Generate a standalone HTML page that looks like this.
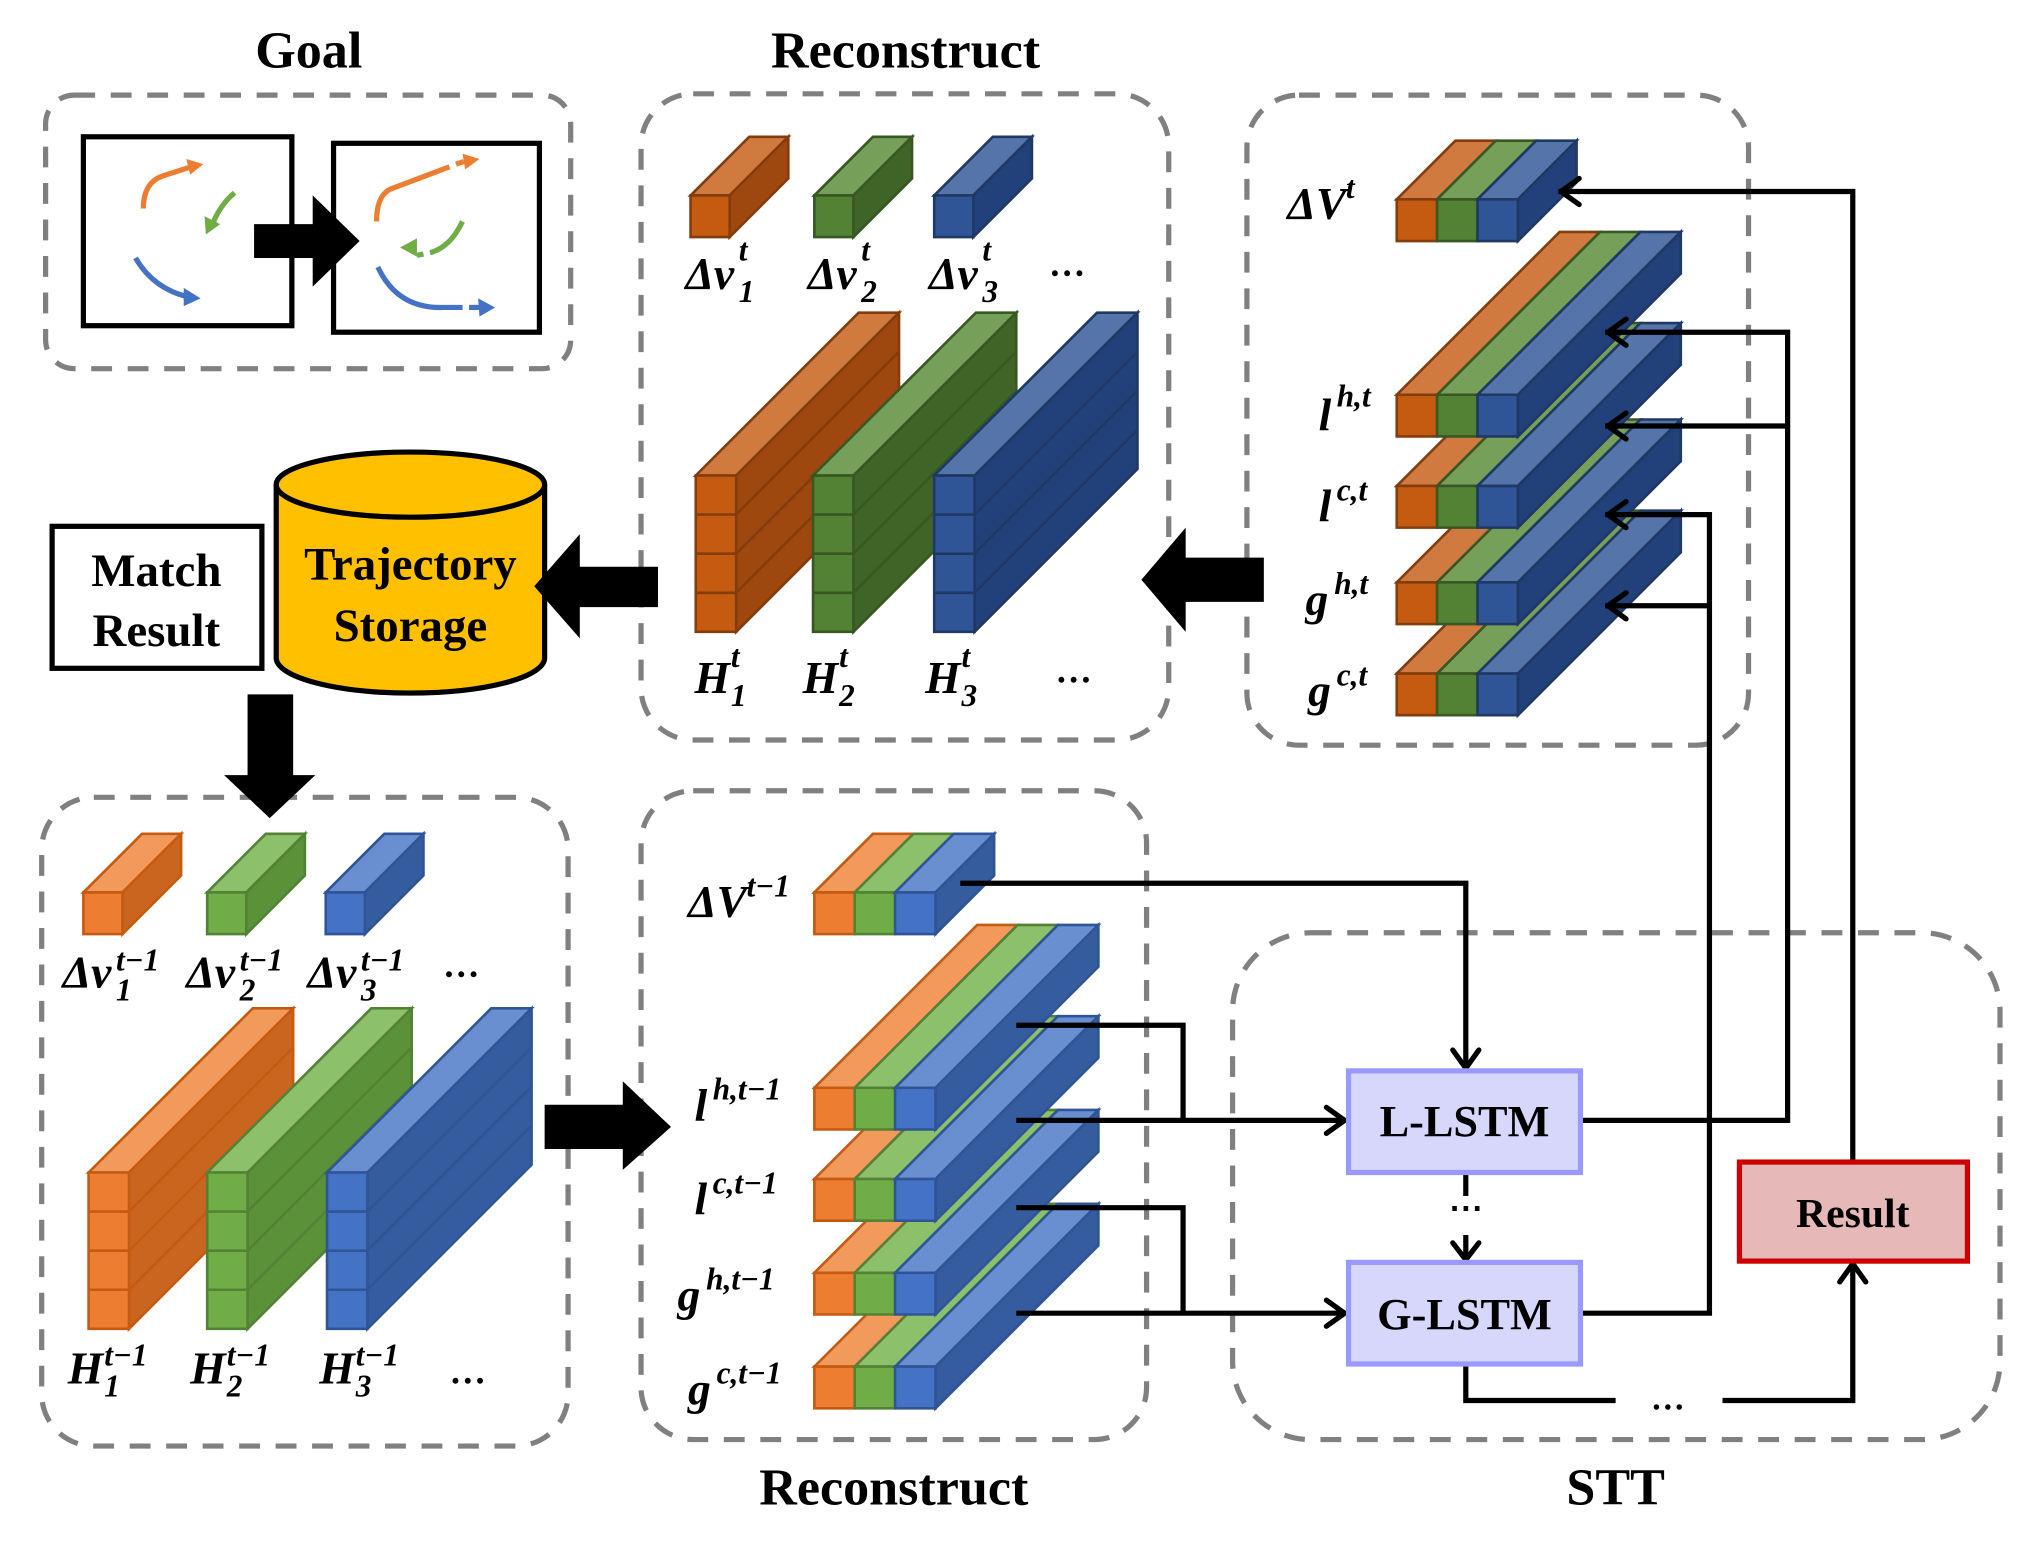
<!DOCTYPE html>
<html><head><meta charset="utf-8"><style>
html,body{margin:0;padding:0;background:#fff;width:2043px;height:1549px;overflow:hidden}
svg{display:block}
.t{font-family:"Liberation Serif",serif;font-weight:bold;fill:#000}
.m{font-family:"Liberation Serif",serif;font-weight:bold;font-style:italic;fill:#000;font-size:35px}
.s{font-family:"Liberation Serif",serif;font-weight:bold;font-style:italic;fill:#000;font-size:24px}
.db{fill:none;stroke:#808080;stroke-width:4;stroke-dasharray:16,12}
.ln{fill:none;stroke:#000;stroke-width:4}
.ah{fill:none;stroke:#000;stroke-width:4;stroke-linecap:round;stroke-linejoin:round}
</style></head><body>
<svg id="s" width="2043" height="1549" viewBox="0 0 1568 1189" preserveAspectRatio="none" xmlns="http://www.w3.org/2000/svg">
<text class="t" x="237" y="52" font-size="40" text-anchor="middle">Goal</text>
<text class="t" x="695" y="52" font-size="40" text-anchor="middle">Reconstruct</text>
<text class="t" x="686" y="1155" font-size="40" text-anchor="middle">Reconstruct</text>
<text class="t" x="1240" y="1155" font-size="40" text-anchor="middle">STT</text>
<rect class="db" x="35" y="73" width="403" height="210" rx="22"/>
<rect class="db" x="492" y="72" width="405" height="496" rx="40"/>
<rect class="db" x="957" y="73" width="385" height="499" rx="40"/>
<rect class="db" x="32" y="612" width="404" height="498" rx="40"/>
<rect class="db" x="492" y="607" width="388" height="498" rx="40"/>
<rect class="db" x="946" y="716" width="589" height="389" rx="60"/>
<rect x="64" y="105" width="160" height="145" fill="#fff" stroke="#000" stroke-width="4"/>
<rect x="256" y="110" width="158" height="145" fill="#fff" stroke="#000" stroke-width="4"/>
<polygon points="195,172 240,172 240,150 276,185 240,220 240,198 195,198" fill="#000"/>
<path d="M110 160 Q110 140 125 135 L150 127" stroke="#ED7D31" stroke-width="4" fill="none"/><polygon points="156,126 143,122 146,134" fill="#ED7D31"/>
<path d="M180 148 Q168 158 162 175" stroke="#70AD47" stroke-width="4" fill="none"/><polygon points="158,180 157,166 169,172" fill="#70AD47"/>
<path d="M104 198 Q118 222 145 228" stroke="#4472C4" stroke-width="4" fill="none"/><polygon points="154,229 141,221 141,235" fill="#4472C4"/>
<path d="M289 170 Q289 150 300 145 L345 128" stroke="#ED7D31" stroke-width="4" fill="none"/><path d="M350 126 L356 124" stroke="#ED7D31" stroke-width="4"/><polygon points="368,122 355,118 357,130" fill="#ED7D31"/>
<path d="M355 170 Q350 180 345 185 Q338 192 330 194 M325 195 L320 196" stroke="#70AD47" stroke-width="4" fill="none"/><polygon points="307,190 320,183 320,197" fill="#70AD47"/>
<path d="M290 205 Q305 237 340 236 L355 236 M360 236 L368 236" stroke="#4472C4" stroke-width="4" fill="none"/><polygon points="380,236 367,229 368,243" fill="#4472C4"/>
<path d="M212 372 L212 505 A103 27 0 0 0 418 505 L418 372" fill="#FFC000" stroke="#000" stroke-width="4"/>
<ellipse cx="315" cy="372" rx="103" ry="25" fill="#FFC000" stroke="#000" stroke-width="4"/>
<text class="t" x="315" y="445" font-size="36" text-anchor="middle">Trajectory</text>
<text class="t" x="315" y="492" font-size="36" text-anchor="middle">Storage</text>
<rect x="40" y="404" width="161" height="109" fill="#fff" stroke="#000" stroke-width="4"/>
<text class="t" x="120" y="450" font-size="36" text-anchor="middle">Match</text>
<text class="t" x="120" y="496" font-size="36" text-anchor="middle">Result</text>
<polygon points="505,435 445,435 445,410 410,450 445,490 445,466 505,466" fill="#000"/>
<polygon points="970,428 910,428 910,405 876,445 910,485 910,462 970,462" fill="#000"/>
<polygon points="190,533 225,533 225,595 242,595 207,628 172,595 190,595" fill="#000"/>
<polygon points="418,848 478,848 478,830 515,865 478,898 478,882 418,882" fill="#000"/>
<g id="cubes"></g>
<text class="m" x="526" y="222">Δv</text><text class="s" x="567" y="200">t</text><text class="s" x="567" y="232">1</text>
<text class="m" x="620" y="222">Δv</text><text class="s" x="661" y="200">t</text><text class="s" x="661" y="232">2</text>
<text class="m" x="713" y="222">Δv</text><text class="s" x="754" y="200">t</text><text class="s" x="754" y="232">3</text>
<text class="t" x="805" y="212" font-size="28">…</text>
<text class="m" x="533" y="532">H</text><text class="s" x="561" y="512">t</text><text class="s" x="561" y="542">1</text>
<text class="m" x="616" y="532">H</text><text class="s" x="644" y="512">t</text><text class="s" x="644" y="542">2</text>
<text class="m" x="710" y="532">H</text><text class="s" x="738" y="512">t</text><text class="s" x="738" y="542">3</text>
<text class="t" x="810" y="524" font-size="28">…</text>
<text class="m" x="988" y="168">ΔV</text><text class="s" x="1033" y="152">t</text>
<text class="m" x="1012" y="330">l</text><text class="s" x="1026" y="312">h,t</text>
<text class="m" x="1012" y="400">l</text><text class="s" x="1026" y="384">c,t</text>
<text class="m" x="1002" y="472">g</text><text class="s" x="1024" y="456">h,t</text>
<text class="m" x="1004" y="542">g</text><text class="s" x="1026" y="526">c,t</text>
<text class="m" x="48" y="758">Δv</text><text class="s" x="89" y="745">t−1</text><text class="s" x="89" y="768">1</text>
<text class="m" x="143" y="758">Δv</text><text class="s" x="184" y="745">t−1</text><text class="s" x="184" y="768">2</text>
<text class="m" x="236" y="758">Δv</text><text class="s" x="277" y="745">t−1</text><text class="s" x="277" y="768">3</text>
<text class="t" x="340" y="750" font-size="28">…</text>
<text class="m" x="52" y="1062">H</text><text class="s" x="80" y="1048">t−1</text><text class="s" x="80" y="1072">1</text>
<text class="m" x="146" y="1062">H</text><text class="s" x="174" y="1048">t−1</text><text class="s" x="174" y="1072">2</text>
<text class="m" x="245" y="1062">H</text><text class="s" x="273" y="1048">t−1</text><text class="s" x="273" y="1072">3</text>
<text class="t" x="345" y="1062" font-size="28">…</text>
<text class="m" x="528" y="704">ΔV</text><text class="s" x="573" y="688">t−1</text>
<text class="m" x="533" y="860">l</text><text class="s" x="547" y="844">h,t−1</text>
<text class="m" x="533" y="932">l</text><text class="s" x="547" y="916">c,t−1</text>
<text class="m" x="520" y="1006">g</text><text class="s" x="542" y="990">h,t−1</text>
<text class="m" x="528" y="1078">g</text><text class="s" x="550" y="1062">c,t−1</text>
<polyline class="ln" points="737,678 1125,678 1125,818"/>
<polyline class="ah" points="1115,806 1125,820 1135,806"/>
<polyline class="ln" points="780,787 908,787 908,860"/>
<polyline class="ln" points="780,860 1031,860"/>
<polyline class="ah" points="1018,850 1032,860 1018,870"/>
<polyline class="ln" points="780,927 908,927 908,1008"/>
<polyline class="ln" points="780,1008 1031,1008"/>
<polyline class="ah" points="1018,998 1032,1008 1018,1018"/>
<polyline class="ln" points="1213,860 1372,860 1372,255 1232,255"/>
<line class="ln" x1="1372" y1="327" x2="1232" y2="327"/>
<polyline class="ah" points="1248,245 1234,255 1248,265"/>
<polyline class="ah" points="1248,317 1234,327 1248,337"/>
<polyline class="ln" points="1213,1008 1312,1008 1312,395 1232,395"/>
<line class="ln" x1="1312" y1="465" x2="1232" y2="465"/>
<polyline class="ah" points="1248,385 1234,395 1248,405"/>
<polyline class="ah" points="1248,455 1234,465 1248,475"/>
<polyline class="ln" points="1422,892 1422,147 1196,147"/>
<polyline class="ah" points="1212,137 1198,147 1212,157"/>
<line x1="1125" y1="900" x2="1125" y2="918" stroke="#000" stroke-width="4"/>
<text class="t" x="1125" y="936" font-size="26" text-anchor="middle">⋯</text>
<line x1="1125" y1="948" x2="1125" y2="966" stroke="#000" stroke-width="4"/>
<polyline class="ah" points="1115,954 1125,967 1135,954"/>
<polyline class="ln" points="1125,1047 1125,1075 1240,1075"/>
<text class="t" x="1280" y="1082" font-size="26" text-anchor="middle">…</text>
<polyline class="ln" points="1322,1075 1422,1075 1422,972"/>
<polyline class="ah" points="1412,984 1422,970 1432,984"/>
<rect x="1035" y="822" width="178" height="78" fill="#D7D7FB" stroke="#9999FF" stroke-width="4"/>
<text class="t" x="1124" y="872" font-size="34" text-anchor="middle">L-LSTM</text>
<rect x="1035" y="969" width="178" height="78" fill="#D7D7FB" stroke="#9999FF" stroke-width="4"/>
<text class="t" x="1124" y="1020" font-size="34" text-anchor="middle">G-LSTM</text>
<rect x="1335" y="892" width="175" height="76" fill="#E6B9B8" stroke="#CC0000" stroke-width="4"/>
<text class="t" x="1422" y="942" font-size="32" text-anchor="middle">Result</text>
</svg>
<script>
var g=document.getElementById('cubes'),NS='http://www.w3.org/2000/svg';
var D={o:['#C55A11','#D07A40','#9E4810','#843C0C'],g:['#548235','#76A05A','#3F6427','#385723'],b:['#2F5597','#5575AA','#22407A','#203864']};
var L={o:['#ED7D31','#F19A5C','#C9651F','#C55A11'],g:['#70AD47','#8DC06A','#5A9139','#548235'],b:['#4472C4','#6A8FD0','#345C9F','#2F5597']};
function p(pts,f,s){var e=document.createElementNS(NS,'polygon');e.setAttribute('points',pts.map(function(q){return q.join(',')}).join(' '));e.setAttribute('fill',f);e.setAttribute('stroke',s);e.setAttribute('stroke-width','2');g.appendChild(e);}
function l(x1,y1,x2,y2,s){var e=document.createElementNS(NS,'line');e.setAttribute('x1',x1);e.setAttribute('y1',y1);e.setAttribute('x2',x2);e.setAttribute('y2',y2);e.setAttribute('stroke',s);e.setAttribute('stroke-width','2');g.appendChild(e);}
function cube(x,y,w,h,d,c,seg,side){
 p([[x,y],[x+d,y-d],[x+w+d,y-d],[x+w,y]],c[1],c[3]);
 if(side!==false){p([[x+w,y],[x+w+d,y-d],[x+w+d,y+h-d],[x+w,y+h]],c[2],c[3]);
 for(var i=1;i<seg;i++){var yy=y+h*i/seg;l(x+w,yy,x+w+d,yy-d,c[3]);}}
 p([[x,y],[x+w,y],[x+w,y+h],[x,y+h]],c[0],c[3]);
 for(var i=1;i<seg;i++){var yy=y+h*i/seg;l(x,yy,x+w,yy,c[3]);}
}
function layer(x,y,d,P){cube(x,y,31,32,d,P.o,1,false);cube(x+31,y,31,32,d,P.g,1,false);cube(x+62,y,31,32,d,P.b,1,true);}
cube(530,150,30,32,45,D.o,1);cube(625,150,30,32,45,D.g,1);cube(717,150,30,32,45,D.b,1);
cube(534,365,31,120,125,D.o,4);cube(624,365,31,120,125,D.g,4);cube(717,365,31,120,125,D.b,4);
layer(1072,517,125,D);layer(1072,447,125,D);layer(1072,373,125,D);layer(1072,303,125,D);layer(1072,153,45,D);
cube(64,685,30,32,45,L.o,1);cube(159,685,30,32,45,L.g,1);cube(250,685,30,32,45,L.b,1);
cube(68,900,31,120,126,L.o,4);cube(159,900,31,120,126,L.g,4);cube(251,900,31,120,126,L.b,4);
layer(625,1049,125,L);layer(625,977,125,L);layer(625,905,125,L);layer(625,835,125,L);layer(625,685,45,L);
</script>
</body></html>
